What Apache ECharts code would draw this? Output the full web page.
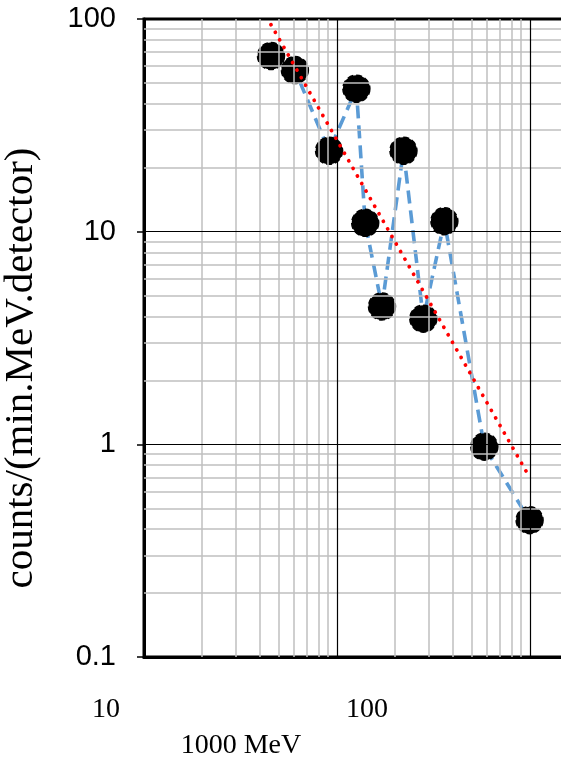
<!DOCTYPE html>
<html>
<head>
<meta charset="utf-8">
<script src="https://cdn.jsdelivr.net/npm/echarts@6/dist/echarts.min.js"></script>
<style>
  html, body { margin: 0; padding: 0; background: #fff; }
  #chart { width: 561px; height: 761px; }
</style>
</head>
<body>
<div id="chart"></div>
<script>
// Measured spectrum: energy bins and counts rate
const energy = [45.5, 60.5, 91, 126, 140, 171, 221, 280, 360, 580, 995];
const counts = [67, 57.5, 24, 47, 11, 4.45, 24, 3.9, 11.2, 0.975, 0.44];

// Power-law trendline end points
const trendEnergy = [45.5, 995];
const trendCounts = [94, 0.70];

// Gridline positions
const xMajor = [100, 1000];
const xMinor = [20, 30, 40, 50, 60, 70, 80, 90,
                200, 300, 400, 500, 600, 700, 800, 900,
                2000, 3000, 4000, 5000, 6000, 7000, 8000, 9000];
const yMajor = [1, 10];
const yMinor = [0.2, 0.3, 0.4, 0.5, 0.6, 0.7, 0.8, 0.9,
                2, 3, 4, 5, 6, 7, 8, 9,
                20, 30, 40, 50, 60, 70, 80, 90];

// Free-standing text labels
const xTextLabels = ['10', '100'];
const xTitle = '1000 MeV';
const yTitle = 'counts/(min.MeV.detector)';

const chart = echarts.init(document.getElementById('chart'), null, { renderer: 'canvas' });

function gridLines(name, xs, ys, color, width, z) {
  const data = xs.map(v => ({ xAxis: v })).concat(ys.map(v => ({ yAxis: v })));
  return {
    name: name,
    type: 'line',
    data: [[10, 0.1]],
    showSymbol: false,
    symbol: 'none',
    lineStyle: { width: 0, opacity: 0 },
    silent: true,
    z: z,
    markLine: {
      silent: true,
      animation: false,
      symbol: ['none', 'none'],
      label: { show: false },
      emphasis: { disabled: true },
      lineStyle: { color: color, width: width, type: 'solid' },
      data: data
    }
  };
}

const serif = '"Liberation Serif", "Times New Roman", serif';
const sans = '"Liberation Sans", Arial, sans-serif';

chart.setOption({
  animation: false,
  backgroundColor: '#ffffff',
  grid: {
    left: 144, top: 19, width: 579, height: 638,
    outerBoundsMode: 'none',
    show: true, borderColor: '#000', borderWidth: 3,
    containLabel: false
  },
  xAxis: {
    type: 'log', logBase: 10, min: 10, max: 10000,
    axisLine: { show: true, lineStyle: { color: '#000', width: 3 } },
    axisTick: { show: false },
    axisLabel: { show: false },
    splitLine: { show: false }
  },
  yAxis: {
    type: 'log', logBase: 10, min: 0.1, max: 100,
    axisLine: { show: true, lineStyle: { color: '#000', width: 3 } },
    axisTick: { show: true, inside: false, length: 7, lineStyle: { color: '#000', width: 1.5 } },
    axisLabel: {
      show: true, margin: 28, color: '#000',
      fontFamily: sans, fontSize: 29,
      formatter: v => String(+v.toPrecision(3))
    },
    splitLine: { show: false }
  },
  series: [
    gridLines('minor', xMinor, yMinor, '#bfbfbf', 1.5, 1),
    gridLines('major', xMajor, yMajor, '#000', 1.2, 2),
    {
      name: 'link',
      type: 'line',
      data: energy.map((e, i) => [e, counts[i]]),
      showSymbol: false,
      symbol: 'none',
      lineStyle: { color: '#5b9bd5', width: 3.6, type: [13, 7] },
      z: 3,
      silent: true
    },
    {
      name: 'counts',
      type: 'scatter',
      data: energy.map((e, i) => [e, counts[i]]),
      symbol: 'circle',
      symbolSize: 27,
      itemStyle: { color: '#000', opacity: 1, borderColor: '#000', borderWidth: 1.5, borderType: 'dashed' },
      z: 4,
      silent: true
    },
    {
      name: 'trend',
      type: 'line',
      data: trendEnergy.map((e, i) => [e, trendCounts[i]]),
      showSymbol: false,
      symbol: 'none',
      lineStyle: { color: '#ff0000', width: 3.8, type: [0.01, 8.7], cap: 'round' },
      z: 5,
      silent: true
    }
  ],
  graphic: [
    { type: 'text', x: 106, y: 710, z: 10,
      style: { text: xTextLabels[0], font: '28px ' + serif, fill: '#000', align: 'center', verticalAlign: 'middle' } },
    { type: 'text', x: 367, y: 710, z: 10,
      style: { text: xTextLabels[1], font: '28px ' + serif, fill: '#000', align: 'center', verticalAlign: 'middle' } },
    { type: 'text', x: 241, y: 746, z: 10,
      style: { text: xTitle, font: '28px ' + serif, fill: '#000', align: 'center', verticalAlign: 'middle' } },
    { type: 'text', x: 21, y: 368, rotation: Math.PI / 2, z: 10,
      style: { text: yTitle, font: '41px ' + serif, fill: '#000', align: 'center', verticalAlign: 'middle' } }
  ]
});
</script>
</body>
</html>
